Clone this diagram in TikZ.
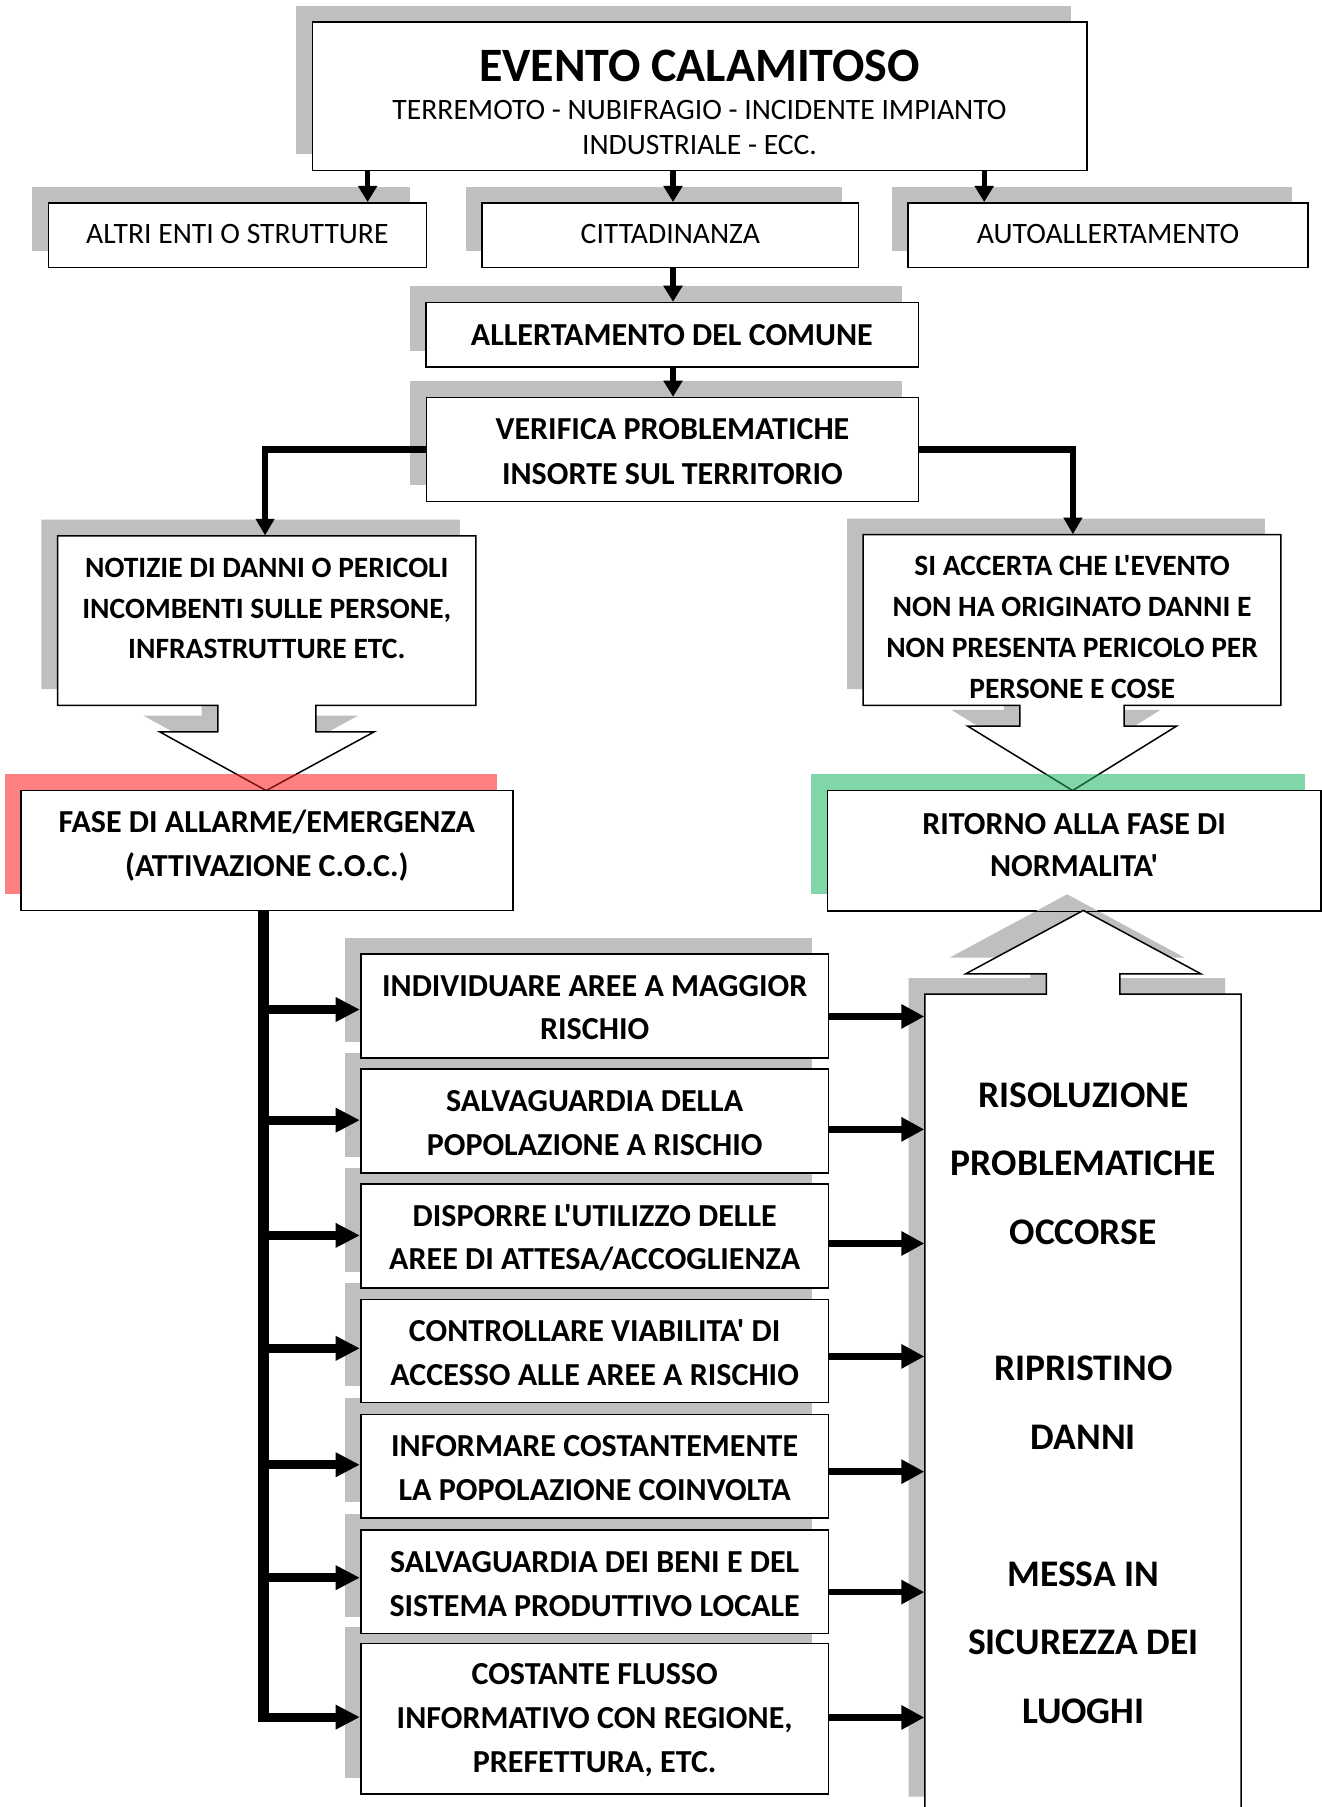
\documentclass[tikz,border=0pt]{standalone}
\usepackage{fontspec}
\newfontfamily\carl{Carlito}
\usetikzlibrary{arrows.meta,fit}

\definecolor{shgray}{RGB}{191,191,191}
\definecolor{shred}{RGB}{255,128,128}
\definecolor{shgreen}{RGB}{128,214,166}
\definecolor{linered}{RGB}{120,20,20}
\definecolor{linegreen}{RGB}{20,90,50}

% outlines of the two boxes with a hollow arrow below, and the tall box with a hollow arrow above
\newcommand\notizieoutline{(50,465) -- (413,465) -- (413,612) -- (274,612) -- (274,635) -- (324.7,635) -- (231,686) -- (138.5,635) -- (189,635) -- (189,612) -- (50,612) -- cycle}
\newcommand\siaccoutline{(749,464) -- (1111.5,464) -- (1111.5,612) -- (975.5,612) -- (975.5,630) -- (1021,630) -- (930.7,686) -- (839.6,630) -- (885,630) -- (885,612) -- (749,612) -- cycle}
\newcommand\risoloutline{(802.5,1573) -- (802.5,862.7) -- (908,862.7) -- (908,845) -- (838,845) -- (940,790) -- (1042,845) -- (971.7,845) -- (971.7,862.7) -- (1077,862.7) -- (1077,1573) -- cycle}

% gray drop shadow + framed box
\newcommand\shbox[5]{%
  \fill[shgray] (#2-14,#3-14) rectangle (#4-14,#5-14);
  \node[box, fit={(#2,#3) (#4,#5)}] (#1) {};}

\tikzset{
  box/.style={draw=black, line width=0.7pt, fill=white, inner sep=0pt},
  outline/.style={draw=black, line width=0.65pt, fill=white},
  fTitle/.style={font=\carl\bfseries\fontsize{20.8}{25}\selectfont, inner sep=0pt},
  fReg/.style={font=\carl\fontsize{12.85}{15}\selectfont, align=center, inner sep=0pt},
  fSmall/.style={font=\carl\bfseries\fontsize{12.8}{#1}\selectfont, align=center, inner sep=0pt},
  fSmall/.default=17.5,
  fBody/.style={font=\carl\bfseries\fontsize{13.9}{#1}\selectfont, align=center, inner sep=0pt},
  fBody/.default=19,
  fMid/.style={font=\carl\bfseries\fontsize{13.9}{19}\selectfont, align=center, inner sep=0pt},
  fBig/.style={font=\carl\bfseries\fontsize{16.3}{29.7}\selectfont, align=center, inner sep=0pt},
  arrT/.style={line width=2.2pt, -{Triangle[length=7pt,width=8pt]}},
  arrV/.style={line width=2.75pt, -{Triangle[length=7.2pt,width=7.8pt]}},
  arrL/.style={line width=4pt, -{Triangle[length=10.5pt,width=10pt]}},
  arrR/.style={line width=2.9pt, -{Triangle[length=10pt,width=10pt]}},
  busline/.style={line width=5pt},
}

\begin{document}
\begin{tikzpicture}[x=0.5pt,y=-0.5pt]
\useasboundingbox (0,0) rectangle (1147,1568);
\clip (0,0) rectangle (1147,1568);
\fill[white] (0,0) rectangle (1147,1568);

% ---- event ----
\shbox{evento}{271}{19}{943}{148}
\node[fTitle] (evento-t) at (607,57) {EVENTO CALAMITOSO};
\node[fReg] (evento-s) at (607,110.6) {TERREMOTO - NUBIFRAGIO - INCIDENTE IMPIANTO\\INDUSTRIALE - ECC.};

% ---- sources of the alert ----
\shbox{altri}{42}{176}{370}{232}
\shbox{citt}{418.5}{176}{745}{232}
\shbox{auto}{788}{176}{1135}{232}
\node[fReg] (altri-t) at (206,203) {ALTRI ENTI O STRUTTURE};
\node[fReg] (citt-t) at (581.7,203) {CITTADINANZA};
\node[fReg] (auto-t) at (961.5,203) {AUTOALLERTAMENTO};

\draw[arrT] (evento.south -| 319,0) -- (altri.north -| 319,0);
\draw[arrT] (evento.south -| 584,0) -- (citt.north -| 584,0);
\draw[arrT] (evento.south -| 854,0) -- (auto.north -| 854,0);

% ---- municipality ----
\shbox{allert}{369.5}{262.6}{797}{318.7}
\node[fBody] (allert-t) at (583,290.6) {ALLERTAMENTO DEL COMUNE};
\draw[arrT] (citt.south -| 584,0) -- (allert.north -| 584,0);

\shbox{verif}{370}{345}{797}{435}
\node[fBody=19.5] (verif-t) at (583.5,391.5) {VERIFICA PROBLEMATICHE\\INSORTE SUL TERRITORIO};
\draw[arrT] (allert.south -| 584,0) -- (verif.north -| 584,0);

% ---- outcomes of the check ----
\fill[shgray, shift={(-14,-14)}] \notizieoutline;
\draw[outline] \notizieoutline;
\node[inner sep=0pt, fit={(50,465) (413,612)}] (notizie) {};
\node[fSmall] (notizie-t) at (231.5,528) {NOTIZIE DI DANNI O PERICOLI\\INCOMBENTI SULLE PERSONE,\\INFRASTRUTTURE ETC.};

\fill[shgray, shift={(-14,-14)}] \siaccoutline;
\draw[outline] \siaccoutline;
\node[inner sep=0pt, fit={(749,464) (1111.5,612)}] (siacc) {};
\node[fSmall=17.75] (siacc-t) at (930.3,544.4) {SI ACCERTA CHE L'EVENTO\\NON HA ORIGINATO DANNI E\\NON PRESENTA PERICOLO PER\\PERSONE E COSE};

\draw[arrV] (verif.west) -| (notizie.north -| 230,0);
\draw[arrV] (verif.east) -| (siacc.north -| 931,0);

% ---- phases ----
\fill[shred] (4,672) rectangle (431,776);
\fill[shgreen] (704,672) rectangle (1132,776);
\begin{scope}
  \clip (4,672) rectangle (431,686);
  \draw[linered, line width=0.65pt] \notizieoutline;
\end{scope}
\begin{scope}
  \clip (704,672) rectangle (1132,686);
  \draw[linegreen, line width=0.65pt] \siaccoutline;
\end{scope}
\node[box, fit={(18,686) (445,790)}] (fase) {};
\node[box, fit={(718,686) (1146,790)}] (ritorno) {};
\node[fBody] (fase-t) at (231.5,734) {FASE DI ALLARME/EMERGENZA\\(ATTIVAZIONE C.O.C.)};
\node[fBody=18.25] (ritorno-t) at (932,733.5) {RITORNO ALLA FASE DI\\NORMALITA'};

% ---- actions of the C.O.C. ----
\fill[shgray] (299,813.7) rectangle (705,904);
\fill[shgray] (299,913.7) rectangle (705,1004);
\fill[shgray] (299,1013.5) rectangle (705,1103.5);
\fill[shgray] (299,1113.5) rectangle (705,1203);
\fill[shgray] (299,1213.5) rectangle (705,1303);
\fill[shgray] (299,1313.5) rectangle (705,1403.5);
\fill[shgray] (299,1412) rectangle (705,1542.5);
\node[box, fit={(313,827.7) (719,918)}] (m1) {};
\node[box, fit={(313,927.7) (719,1018)}] (m2) {};
\node[box, fit={(313,1027.5) (719,1117.5)}] (m3) {};
\node[box, fit={(313,1127.5) (719,1217)}] (m4) {};
\node[box, fit={(313,1227.5) (719,1317)}] (m5) {};
\node[box, fit={(313,1327.5) (719,1417.5)}] (m6) {};
\node[box, fit={(313,1426) (719,1556.5)}] (m7) {};
\node[fMid] (m1-t) at (516,874.4) {INDIVIDUARE AREE A MAGGIOR\\RISCHIO};
\node[fMid] (m2-t) at (516,974.4) {SALVAGUARDIA DELLA\\POPOLAZIONE A RISCHIO};
\node[fMid] (m3-t) at (516,1074) {DISPORRE L'UTILIZZO DELLE\\AREE DI ATTESA/ACCOGLIENZA};
\node[fMid] (m4-t) at (516,1174) {CONTROLLARE VIABILITA' DI\\ACCESSO ALLE AREE A RISCHIO};
\node[fMid] (m5-t) at (516,1274) {INFORMARE COSTANTEMENTE\\LA POPOLAZIONE COINVOLTA};
\node[fMid] (m6-t) at (516,1374.3) {SALVAGUARDIA DEI BENI E DEL\\SISTEMA PRODUTTIVO LOCALE};
\node[fMid] (m7-t) at (516,1492.5) {COSTANTE FLUSSO\\INFORMATIVO CON REGIONE,\\PREFETTURA, ETC.};

% distribution bus from the C.O.C.
\draw[busline] (fase.south -| 228.5,0) -- (228.5,1494.5);
\coordinate (b1) at (228.5,876);
\coordinate (b2) at (228.5,972);
\coordinate (b3) at (228.5,1072);
\coordinate (b4) at (228.5,1170);
\coordinate (b5) at (228.5,1271);
\coordinate (b6) at (228.5,1369);
\coordinate (b7) at (228.5,1490);
\draw[arrL] (b1) -- (b1 -| m1.west);
\draw[arrL] (b2) -- (b2 -| m2.west);
\draw[arrL] (b3) -- (b3 -| m3.west);
\draw[arrL] (b4) -- (b4 -| m4.west);
\draw[arrL] (b5) -- (b5 -| m5.west);
\draw[arrL] (b6) -- (b6 -| m6.west);
\draw[arrL] (b7) -- (b7 -| m7.west);

% ---- resolution column ----
\fill[shgray, shift={(-14,-14)}] \risoloutline;
\draw (ritorno.south west) -- (ritorno.south east);
\draw[outline] \risoloutline;
\node[inner sep=0pt, fit={(802.5,862.7) (1077,1573)}] (risol) {};
\node[fBig] (risol-t) at (940,1217.4) {RISOLUZIONE\\PROBLEMATICHE\\OCCORSE\\[29.7pt]RIPRISTINO\\DANNI\\[29.7pt]MESSA IN\\SICUREZZA DEI\\LUOGHI};

\draw[arrR] (m1.east |- 0,882) -- (risol.west |- 0,882);
\draw[arrR] (m2.east |- 0,980) -- (risol.west |- 0,980);
\draw[arrR] (m3.east |- 0,1079) -- (risol.west |- 0,1079);
\draw[arrR] (m4.east |- 0,1177) -- (risol.west |- 0,1177);
\draw[arrR] (m5.east |- 0,1277) -- (risol.west |- 0,1277);
\draw[arrR] (m6.east |- 0,1381.5) -- (risol.west |- 0,1381.5);
\draw[arrR] (m7.east |- 0,1490.3) -- (risol.west |- 0,1490.3);
\end{tikzpicture}
\end{document}
